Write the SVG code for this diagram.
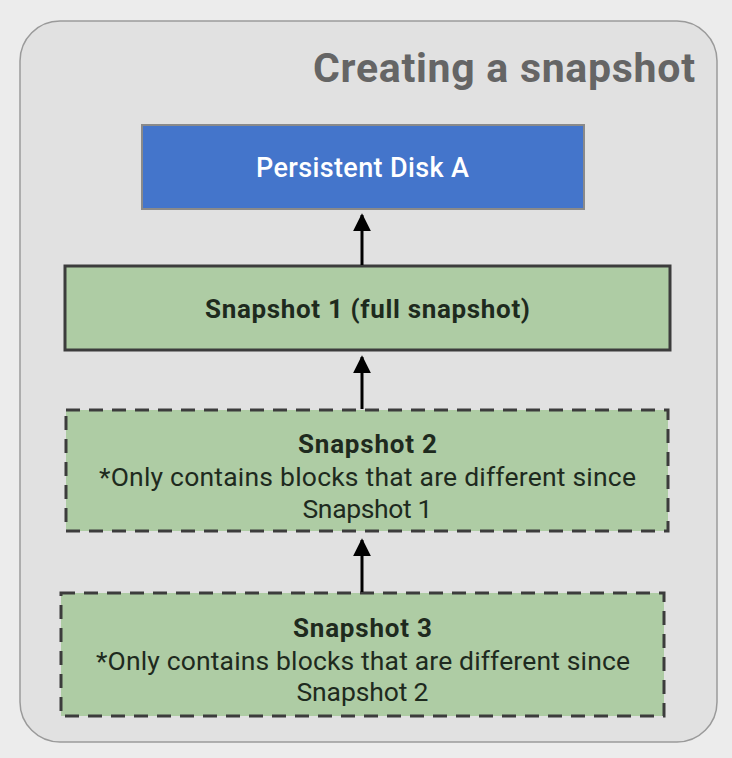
<svg xmlns="http://www.w3.org/2000/svg" width="732" height="758" viewBox="0 0 732 758">
<defs>
<style>
.t{font-family:Roboto,"Open Sans",sans-serif;text-anchor:middle;fill:#1e2a1e}
.b{font-weight:bold;font-size:26px}
.r{font-size:26.5px}
.box{fill:#aecca4;stroke:#3c3c3c;stroke-width:3}
.dash{stroke-dasharray:14 9}
.conn{stroke:#000;stroke-width:3;fill:none}
</style>
<marker id="ah" viewBox="0 0 10 10" refX="9" refY="5" markerWidth="6" markerHeight="6" orient="auto" markerUnits="strokeWidth">
<path d="M0,0L10,5L0,10z" fill="#000"/>
</marker>
</defs>
<rect width="732" height="758" fill="#ececec"/>
<rect x="20" y="21" width="697" height="721" rx="40" fill="#e1e1e1" stroke="#9a9a9a" stroke-width="1.5"/>
<text x="695" y="82" textLength="382" style="font-family:Roboto,'Open Sans',sans-serif;font-size:41px;font-weight:bold;fill:#656565;text-anchor:end">Creating a snapshot</text>
<g id="disk">
<rect x="142" y="125" width="442" height="84" fill="#4475cb" stroke="#8a8a8a" stroke-width="2"/>
<text class="t" x="362.5" y="177" textLength="213" style="fill:#fff;font-weight:500;font-size:27px">Persistent Disk A</text>
</g>
<g id="snap1">
<rect class="box" x="65" y="266" width="605" height="84"/>
<text class="t b" x="367.5" y="318" textLength="325">Snapshot 1 (full snapshot)</text>
</g>
<g id="snap2">
<rect class="box dash" x="66" y="410" width="602" height="121"/>
<text class="t b" x="367.5" y="453" textLength="139">Snapshot 2</text>
<text class="t r" x="367.5" y="486" textLength="537">*Only contains blocks that are different since</text>
<text class="t r" x="367.5" y="518" textLength="130">Snapshot 1</text>
</g>
<g id="snap3">
<rect class="box dash" x="61" y="593" width="603" height="123"/>
<text class="t b" x="362.5" y="637" textLength="139">Snapshot 3</text>
<text class="t r" x="363" y="670" textLength="534">*Only contains blocks that are different since</text>
<text class="t r" x="362.5" y="701" textLength="132">Snapshot 2</text>
</g>
<g id="connectors">
<line class="conn" x1="362" y1="265" x2="362" y2="215" marker-end="url(#ah)"/>
<line class="conn" x1="362" y1="409" x2="362" y2="357" marker-end="url(#ah)"/>
<line class="conn" x1="362" y1="592" x2="362" y2="540" marker-end="url(#ah)"/>
</g>
</svg>
